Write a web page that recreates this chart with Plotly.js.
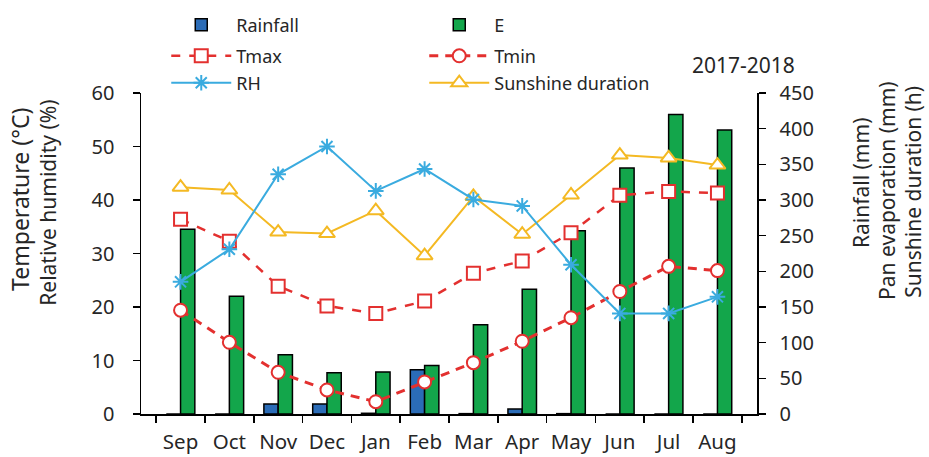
<!DOCTYPE html>
<html><head><meta charset="utf-8">
<script src="https://cdn.plot.ly/plotly-3.0.1.min.js"></script>
<style>body{margin:0;background:#fff}#c{width:929px;height:457px}</style>
</head><body><div id="c"></div>
<script>
const months = ["Sep","Oct","Nov","Dec","Jan","Feb","Mar","Apr","May","Jun","Jul","Aug"];
const rainfall = [0, 0, 14, 14, 1, 62, 0.5, 7, 0.5, 0, 0, 0];
const evap = [259, 165, 83, 58, 59, 68, 125, 175, 257, 345, 420, 398];
const tmax = [36.4, 32.3, 23.9, 20.2, 18.8, 21.1, 26.3, 28.6, 33.9, 40.9, 41.6, 41.3];
const tmin = [19.4, 13.4, 7.8, 4.5, 2.3, 6.0, 9.6, 13.6, 18.0, 22.9, 27.6, 26.8];
const rh = [24.7, 30.8, 44.8, 50.0, 41.7, 45.8, 40.1, 38.9, 27.9, 18.8, 18.8, 21.9];
const sunshine = [318, 314, 255, 253, 285, 222, 305, 252, 307, 363, 359, 349];

const F = "Noto Sans, Open Sans, sans-serif";
const TXT = "#262626";
const data = [
  {type:"bar", name:"Rainfall", x:months, y:rainfall, yaxis:"y", legend:"legend",
   marker:{color:"#2b6cb7", line:{color:"#000", width:1.5}}},
  {type:"bar", name:"E", x:months, y:evap, yaxis:"y", legend:"legend",
   marker:{color:"#13a64b", line:{color:"#000", width:1.5}}},
  {type:"scatter", mode:"lines+markers", name:"Tmax", x:months, y:tmax, yaxis:"y2", legend:"legend2",
   line:{color:"#e3302f", width:2.5, dash:"dash"}, marker:{symbol:"square", size:13, color:"#fff", line:{color:"#e3302f", width:2}}},
  {type:"scatter", mode:"lines+markers", name:"Tmin", x:months, y:tmin, yaxis:"y2", legend:"legend2",
   line:{color:"#e3302f", width:3, dash:"9px,7px"}, marker:{symbol:"circle", size:13, color:"#fff", line:{color:"#e3302f", width:2}}},
  {type:"scatter", mode:"lines+markers", name:"RH", x:months, y:rh, yaxis:"y2", legend:"legend3",
   line:{color:"#3aabdf", width:2}, marker:{symbol:"asterisk-open", size:13, color:"#3aabdf", line:{color:"#3aabdf", width:2}}},
  {type:"scatter", mode:"lines+markers", name:"Sunshine duration", x:months, y:sunshine, yaxis:"y", legend:"legend3",
   line:{color:"#f4b923", width:2}, marker:{symbol:"triangle-up", size:14, color:"#fff", line:{color:"#f4b923", width:2}}}
];

const legBase = {orientation:"h", entrywidthmode:"pixels", entrywidth:183, itemwidth:60,
  font:{family:F, size:18, color:TXT}, bgcolor:"rgba(0,0,0,0)", xanchor:"left", yanchor:"middle", x:0.041, traceorder:"normal"};

const ax = {ticks:"outside", ticklen:7, tickwidth:1.5, tickcolor:"#000", showline:true, linecolor:"#000", linewidth:1.5,
  showgrid:false, zeroline:false, automargin:false, tickfont:{family:F, size:20, color:TXT}};

const layout = {
  width:929, height:457,
  margin:{l:141, r:172, t:93, b:43, autoexpand:false},
  paper_bgcolor:"#fff", plot_bgcolor:"#fff",
  font:{family:F, color:TXT},
  barmode:"group", bargap:0.415, bargroupgap:0,
  xaxis:Object.assign({}, ax, {type:"category", tickson:"boundaries", tickangle:0, ticklabelstandoff:9,
    tickfont:{family:F, size:20.5, color:TXT}}),
  yaxis:Object.assign({}, ax, {side:"right", range:[0,450], dtick:50, ticklabelstandoff:10}),
  yaxis2:Object.assign({}, ax, {overlaying:"y", side:"left", range:[0,60], dtick:10, ticklabelstandoff:14}),
  legend: Object.assign({}, legBase, {y:1.212}),
  legend2: Object.assign({}, legBase, {y:1.115}),
  legend3: Object.assign({}, legBase, {y:1.031}),
  annotations:[
    {text:"2017-2018", xref:"paper", yref:"paper", x:0.978, y:1.087, xanchor:"center", yanchor:"middle", showarrow:false,
     font:{family:F, size:21, color:TXT}},
    {text:"Temperature (°C)", xref:"paper", yref:"paper", x:-0.1964, y:0.667, textangle:-90, showarrow:false,
     xanchor:"center", yanchor:"middle", font:{family:F, size:23, color:TXT}},
    {text:"Relative humidity (%)", xref:"paper", yref:"paper", x:-0.151, y:0.658, textangle:-90, showarrow:false,
     xanchor:"center", yanchor:"middle", font:{family:F, size:21, color:TXT}},
    {text:"Rainfall (mm)", xref:"paper", yref:"paper", x:1.169, y:0.72, textangle:-90, showarrow:false,
     xanchor:"center", yanchor:"middle", font:{family:F, size:21, color:TXT}},
    {text:"Pan evaporation (mm)", xref:"paper", yref:"paper", x:1.211, y:0.695, textangle:-90, showarrow:false,
     xanchor:"center", yanchor:"middle", font:{family:F, size:21, color:TXT}},
    {text:"Sunshine duration (h)", xref:"paper", yref:"paper", x:1.253, y:0.692, textangle:-90, showarrow:false,
     xanchor:"center", yanchor:"middle", font:{family:F, size:21, color:TXT}}
  ]
};
Plotly.newPlot("c", data, layout, {displayModeBar:false, staticPlot:true});
</script></body></html>
